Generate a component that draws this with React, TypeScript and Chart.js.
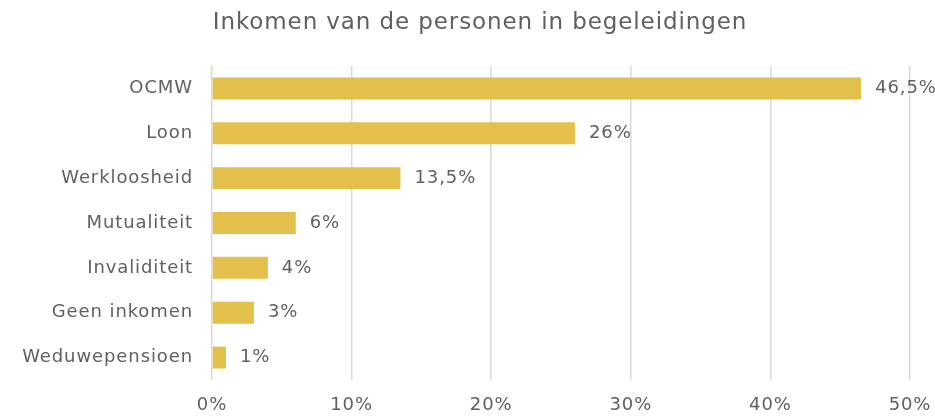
import React, { useEffect, useRef } from "react";
import { Chart, registerables } from "chart.js";

Chart.register(...registerables);

const categories = ["OCMW", "Loon", "Werkloosheid", "Mutualiteit", "Invaliditeit", "Geen inkomen", "Weduwepensioen"];
const values = [46.5, 26, 13.5, 6, 4, 3, 1];
const title = "Inkomen van de personen in begeleidingen";
const xTicks = [0, 10, 20, 30, 40, 50];

const FONT = "'DejaVu Sans', sans-serif";
const TEXT = "#606060";
const BAR = "#E2C04B";
const WEIGHT = "400";
const SPACING = "0.9px";

const fmt = (v: number) => String(v).replace(".", ",") + "%";

const spacingPlugin = {
  id: "spacing",
  beforeUpdate(chart: any) {
    chart.ctx.letterSpacing = SPACING;
  },
  beforeLayout(chart: any) {
    chart.ctx.letterSpacing = SPACING;
  },
  beforeDraw(chart: any) {
    chart.ctx.letterSpacing = SPACING;
  },
};

const titlePlugin = {
  id: "customTitle",
  afterDraw(chart: any) {
    const ctx = chart.ctx;
    ctx.save();
    ctx.letterSpacing = SPACING;
    ctx.font = `${WEIGHT} 23px ${FONT}`;
    ctx.fillStyle = TEXT;
    ctx.textAlign = "center";
    ctx.textBaseline = "middle";
    ctx.fillText(title, 480, 23);
    ctx.restore();
  },
};

const labelPlugin = {
  id: "barLabels",
  afterDatasetsDraw(chart: any) {
    const ctx = chart.ctx;
    const meta = chart.getDatasetMeta(0);
    ctx.save();
    ctx.letterSpacing = SPACING;
    ctx.font = `${WEIGHT} 18px ${FONT}`;
    ctx.fillStyle = TEXT;
    ctx.textAlign = "left";
    ctx.textBaseline = "middle";
    meta.data.forEach((el: any, i: number) => {
      ctx.fillText(fmt(values[i]), el.x + 14, el.y);
    });
    ctx.restore();
  },
};

export default function App() {
  const ref = useRef<HTMLCanvasElement>(null);
  useEffect(() => {
    if (!ref.current) return;
    const chart = new Chart(ref.current, {
      type: "bar",
      data: {
        labels: categories,
        datasets: [
          {
            data: values,
            backgroundColor: BAR,
            barPercentage: 0.98,
            categoryPercentage: 0.5,
          },
        ],
      },
      options: {
        indexAxis: "y",
        animation: false,
        responsive: false,
        maintainAspectRatio: false,
        layout: { padding: { left: 0, right: 25, top: 66, bottom: 0 } },
        plugins: {
          legend: { display: false },
          tooltip: { enabled: false },
          title: { display: false },
        },
        scales: {
          x: {
            min: 0,
            max: 50,
            afterBuildTicks: (s: any) => {
              s.ticks = xTicks.map((v) => ({ value: v }));
            },
            afterFit: (s: any) => {
              s.height = 37;
              s.paddingRight = 0;
              s.paddingLeft = 0;
            },
            grid: { color: "#d9d9d9", lineWidth: 1.5, drawTicks: false },
            border: { display: false },
            ticks: {
              color: TEXT,
              padding: 15,
              font: { family: FONT, size: 18, weight: WEIGHT as any },
              callback: (v: any) => v + "%",
            },
          },
          y: {
            afterFit: (s: any) => {
              s.width = 212;
            },
            grid: { display: false, drawTicks: false },
            border: { display: false },
            ticks: {
              color: TEXT,
              padding: 19,
              font: { family: FONT, size: 18, weight: WEIGHT as any },
            },
          },
        },
      },
      plugins: [spacingPlugin, labelPlugin, titlePlugin],
    });
    return () => chart.destroy();
  }, []);
  return (
    <div style={{ position: "fixed", left: 0, top: 0, width: 935, height: 417, background: "#fff" }}>
      <canvas ref={ref} width={935} height={417} style={{ width: 935, height: 417 }} />
    </div>
  );
}
